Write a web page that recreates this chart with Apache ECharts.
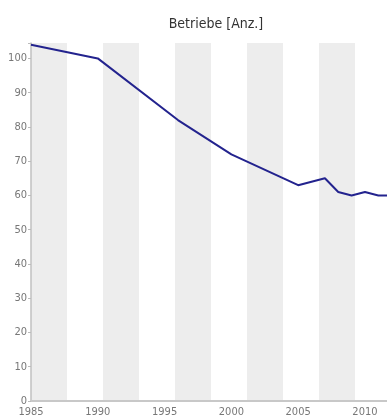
<!DOCTYPE html>
<html><head><meta charset="utf-8">
<script src="https://cdn.jsdelivr.net/npm/echarts@6/dist/echarts.min.js"></script>
<style>html,body{margin:0;padding:0;background:#fff;overflow:hidden}#c{width:387px;height:419px}</style>
</head><body><div id="c"></div>
<script>
const title = 'Betriebe [Anz.]';
const years = [1985, 1990, 1996, 2000, 2005, 2007, 2008, 2009, 2010, 2011, 2012];
const values = [104, 100, 82, 72, 63, 65, 61, 60, 61, 60, 60];
const yTicks = [0, 10, 20, 30, 40, 50, 60, 70, 80, 90, 100];
const xTicks = [1985, 1990, 1995, 2000, 2005, 2010];

const font = '"Liberation Sans Narrow", "DejaVu Sans Condensed", sans-serif';
const chart = echarts.init(document.getElementById('c'));
chart.setOption({
  animation: false,
  title: { text: title, left: 211, top: 12, textAlign: 'center',
    textStyle: { fontFamily: font, fontSize: 14, fontWeight: 'normal', color: '#333' } },
  grid: { left: 31, right: 0, top: 43, bottom: 18 },
  xAxis: [{
    type: 'value', min: 1985, max: 2011.65, interval: 5,
    axisLine: { lineStyle: { color: '#c8c8c8', width: 2 } },
    axisTick: { show: false },
    splitLine: { show: false },
    axisLabel: { fontFamily: font, fontSize: 11, color: '#777', margin: 6,
      showMaxLabel: false, formatter: v => xTicks.includes(v) ? String(v) : '' }
  }, {
    type: 'value', min: 0, max: 9.889, interval: 1, position: 'top',
    axisLine: { show: false }, axisTick: { show: false }, axisLabel: { show: false },
    splitLine: { show: false },
    splitArea: { show: true, areaStyle: { color: ['#ededed', '#ffffff'] } }
  }],
  yAxis: {
    type: 'value', min: 0, max: 104.5, interval: 10,
    axisLine: { show: true, lineStyle: { color: '#c0c0c0', width: 1.5 } },
    axisTick: { show: true, length: 3, lineStyle: { color: '#bbb' } },
    splitLine: { show: false },
    axisLabel: { fontFamily: font, fontSize: 11, color: '#777', margin: 4,
      formatter: v => yTicks.includes(v) ? String(v) : '' }
  },
  series: [{
    type: 'line', xAxisIndex: 0,
    data: years.map((y, i) => [y, values[i]]),
    symbol: 'none', clip: true,
    lineStyle: { color: '#23238e', width: 2 }
  }]
});
</script></body></html>
